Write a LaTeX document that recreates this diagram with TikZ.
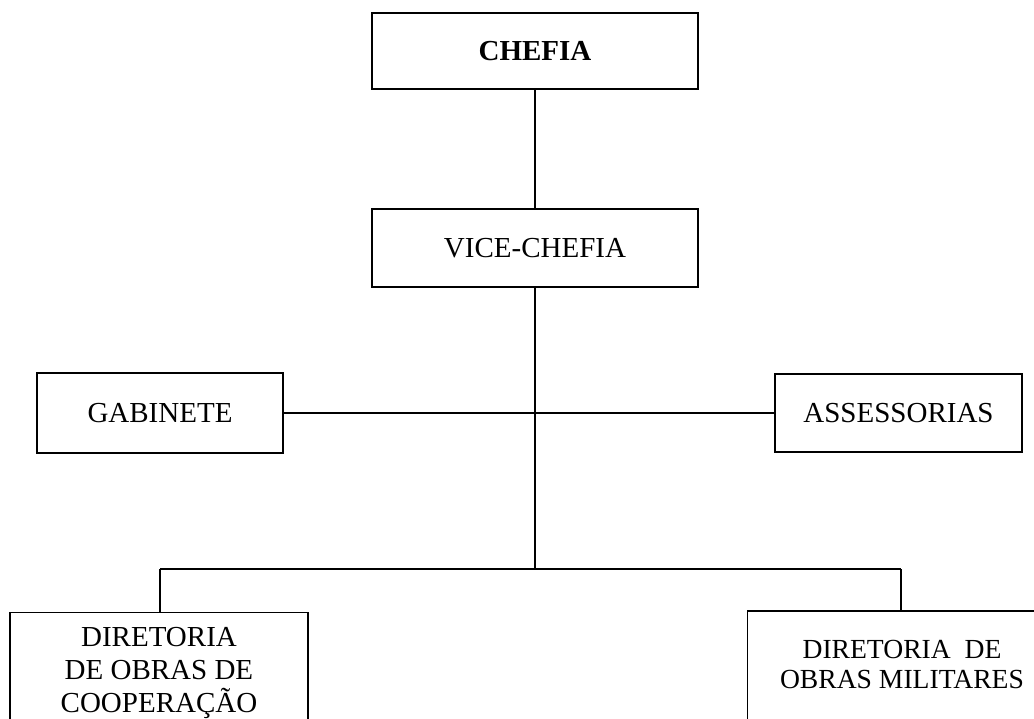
\documentclass[tikz,border=0pt]{standalone}
\usepackage{fontspec}
\setmainfont{Liberation Serif}
\begin{document}
\begin{tikzpicture}[x=1pt,y=-1pt,
  box/.style={draw,line width=1.3pt,inner sep=0pt,align=center,
    font=\fontsize{29}{33}\selectfont},
  conn/.style={line width=1.3pt}]
\useasboundingbox (0,0) rectangle (1034,719);
\begin{scope}
\clip (0,0) rectangle (1034,719);
\node[box,minimum width=326pt,minimum height=76pt,font=\fontsize{29}{33}\selectfont\bfseries] (chefia) at (535,51) {CHEFIA};
\node[box,minimum width=326pt,minimum height=78pt] (vice) at (535,248) {VICE-CHEFIA};
\node[box,minimum width=246pt,minimum height=80pt] (gab) at (160,413) {GABINETE};
\node[box,minimum width=247pt,minimum height=78pt] (ass) at (898.5,413) {ASSESSORIAS};
\node[box,anchor=north,minimum width=298pt,minimum height=121pt] (dcoop) at (159,612) {DIRETORIA\\DE OBRAS DE\\COOPERAÇÃO};
\node[box,draw=none,anchor=north,minimum width=308pt,minimum height=106pt,font=\fontsize{27.6}{30}\selectfont] (dmil) at (902,611) {DIRETORIA~~DE\\OBRAS MILITARES};
\draw[conn] ([yshift=-30pt]dmil.south west) -- (dmil.north west) -- (dmil.north east) -- ([yshift=-30pt]dmil.south east);
\coordinate (bus) at (537,569);
\coordinate (bl) at (160,569);
\coordinate (br) at (901,569);
\draw[conn] (chefia.south) -- (vice.north);
\draw[conn] (vice.south) -- (vice.south |- bus);
\draw[conn] (gab.east) -- (ass.west);
\draw[conn] (bl) -- (br);
\draw[conn] (bl) -- (bl |- dcoop.north);
\draw[conn] (br) -- (br |- dmil.north);
\end{scope}
\end{tikzpicture}
\end{document}
